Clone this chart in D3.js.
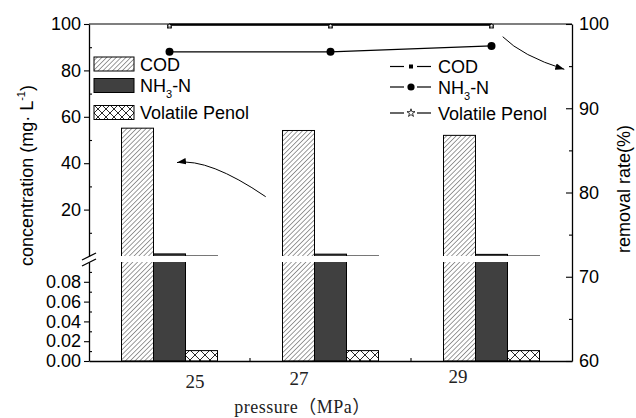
<!DOCTYPE html>
<html><head><meta charset="utf-8">
<script src="https://cdn.jsdelivr.net/npm/d3@7"></script>
<style>body{margin:0;background:#fff} svg{display:block}</style>
</head><body><svg id="c" width="636" height="418"></svg>
<script>
// ---- data ----
const pressures = ["25", "27", "29"];
const seriesNames = ["COD", "NH3-N", "Volatile Penol"];
const codConc = [55.1, 54.1, 52.0];
const nh3Conc = [0.9, 0.8, 0.7];
const phenolConc = [0.0105, 0.0105, 0.0105];
const codRemoval = [99.88, 99.88, 99.88];
const nh3Removal = [96.7, 96.7, 97.4];
const phenolRemoval = [99.95, 99.95, 99.95];
const upperTicks = [20, 40, 60, 80, 100];
const upperMinor = [10, 30, 50, 70, 90];
const lowerTicks = [0, 0.02, 0.04, 0.06, 0.08];
const lowerMinor = [0.01, 0.03, 0.05, 0.07, 0.09];
const rightTicks = [60, 70, 80, 90, 100];
const rightMinor = [65, 75, 85, 95];

// ---- layout ----
const L = 89, R = 572, T = 24, B = 361, upBot = 256, lowTop = 262;
const FONT = "'Liberation Sans', Arial, sans-serif";
const SERIF = "'Liberation Serif', 'Times New Roman', serif";
const labelNudge = [{dx: 25.5, y: 388}, {dx: -31.5, y: 384.5}, {dx: -33.5, y: 383}];

const svg = d3.select("#c");
const defs = svg.append("defs");

// patterns
const hatch = defs.append("pattern").attr("id", "hatch").attr("patternUnits", "userSpaceOnUse")
  .attr("width", 3.4).attr("height", 3.4).attr("patternTransform", "rotate(45)");
hatch.append("rect").attr("width", 3.4).attr("height", 3.4).attr("fill", "#fff");
hatch.append("line").attr("x1", 0).attr("y1", 0).attr("x2", 0).attr("y2", 3.4)
  .attr("stroke", "#222").attr("stroke-width", 0.9);

const cross = defs.append("pattern").attr("id", "cross").attr("patternUnits", "userSpaceOnUse")
  .attr("width", 10).attr("height", 10);
cross.append("rect").attr("width", 10).attr("height", 10).attr("fill", "#fff");
cross.append("path").attr("d", "M0,0L10,10M10,0L0,10").attr("stroke", "#111").attr("stroke-width", 0.9);

const crossL = defs.append("pattern").attr("id", "crossL").attr("patternUnits", "userSpaceOnUse")
  .attr("width", 8).attr("height", 8).attr("x", 94).attr("y", 105);
crossL.append("rect").attr("width", 8).attr("height", 8).attr("fill", "#fff");
crossL.append("path").attr("d", "M0,0L8,8M8,0L0,8").attr("stroke", "#111").attr("stroke-width", 0.9);

defs.append("clipPath").attr("id", "clipU").append("rect")
  .attr("x", L).attr("y", T - 2).attr("width", R - L).attr("height", upBot - T + 2);
defs.append("clipPath").attr("id", "clipL").append("rect")
  .attr("x", L).attr("y", lowTop).attr("width", R - L).attr("height", B - lowTop + 2);

const mk = defs.append("marker").attr("id", "arrow").attr("markerUnits", "userSpaceOnUse")
  .attr("markerWidth", 10).attr("markerHeight", 8).attr("refX", 9).attr("refY", 4).attr("orient", "auto");
mk.append("path").attr("d", "M0,0.8L9,4L0,7.2z").attr("fill", "#000");

// ---- scales ----
const x = d3.scaleBand().domain(pressures).range([L, R]);
const xs = d3.scaleBand().domain(seriesNames).range([0, 96]);
const off = (x.bandwidth() - 96) / 2;
const yU = d3.scaleLinear().domain([0, 100]).range([upBot, T]);
const yL = d3.scaleLinear().domain([0, 0.1]).range([B, lowTop]);
const yR = d3.scaleLinear().domain([60, 100]).range([B, T]);

const fills = {"COD": "url(#hatch)", "NH3-N": "#404040", "Volatile Penol": "url(#cross)"};
const concs = {"COD": codConc, "NH3-N": nh3Conc, "Volatile Penol": phenolConc};

const bars = [];
seriesNames.forEach(s => pressures.forEach((p, i) => bars.push({s, p, v: concs[s][i]})));
const bx = d => x(d.p) + off + xs(d.s);

// upper segment bars
svg.append("g").attr("clip-path", "url(#clipU)").selectAll("rect")
  .data(bars.filter(d => d.v > yU.domain()[0])).join("rect")
  .attr("x", bx).attr("width", xs.bandwidth())
  .attr("y", d => yU(d.v)).attr("height", d => upBot + 6 - yU(d.v))
  .attr("fill", d => fills[d.s]).attr("stroke", "#000").attr("stroke-width", 1);

// lower segment bars
svg.append("g").attr("clip-path", "url(#clipL)").selectAll("rect")
  .data(bars).join("rect")
  .attr("x", bx).attr("width", xs.bandwidth())
  .attr("y", d => Math.max(yL(d.v), lowTop - 6)).attr("height", d => B - Math.max(yL(d.v), lowTop - 6))
  .attr("fill", d => fills[d.s]).attr("stroke", "#000").attr("stroke-width", 1);

// ---- axes ----
function styleAxis(g) {
  g.selectAll("path.domain").attr("stroke", "#000").attr("stroke-width", 1.3);
  g.selectAll(".tick line").attr("stroke", "#000").attr("stroke-width", 1.1);
  g.selectAll("text").attr("font-family", FONT).attr("font-size", 18).attr("fill", "#000");
}
svg.append("g").attr("transform", `translate(${L},0)`)
  .call(d3.axisLeft(yU).tickValues(upperTicks).tickSize(5).tickSizeOuter(0).tickPadding(3))
  .call(styleAxis);
svg.append("g").attr("transform", `translate(${L},0)`)
  .call(d3.axisLeft(yU).tickValues(upperMinor).tickSize(-3).tickSizeOuter(0).tickFormat(""))
  .call(g => g.select(".domain").remove()).call(styleAxis);
svg.append("g").attr("transform", `translate(${L},0)`)
  .call(d3.axisLeft(yL).tickValues(lowerTicks).tickFormat(d3.format(".2f")).tickSize(5).tickSizeOuter(0).tickPadding(3))
  .call(styleAxis);
svg.append("g").attr("transform", `translate(${L},0)`)
  .call(d3.axisLeft(yL).tickValues(lowerMinor).tickSize(-3).tickSizeOuter(0).tickFormat(""))
  .call(g => g.select(".domain").remove()).call(styleAxis);
svg.append("g").attr("transform", `translate(${R},0)`)
  .call(d3.axisRight(yR).tickValues(rightTicks).tickSize(-6).tickSizeOuter(0).tickPadding(7))
  .call(styleAxis);
svg.append("g").attr("transform", `translate(${R},0)`)
  .call(d3.axisRight(yR).tickValues(rightMinor).tickSize(-3).tickSizeOuter(0).tickFormat(""))
  .call(g => g.select(".domain").remove()).call(styleAxis);
svg.append("g").attr("transform", `translate(0,${B})`)
  .call(d3.axisBottom(x).tickSize(0).tickSizeOuter(0).tickFormat(""))
  .call(styleAxis);
svg.append("g").selectAll("line").data(pressures.slice(1)).join("line")
  .attr("x1", d => x(d)).attr("x2", d => x(d)).attr("y1", B).attr("y2", B - 3)
  .attr("stroke", "#000").attr("stroke-width", 1.1);
svg.append("g").selectAll("text").data(pressures).join("text")
  .attr("x", (d, i) => x(d) + x.bandwidth() / 2 + labelNudge[i].dx)
  .attr("y", (d, i) => labelNudge[i].y)
  .attr("text-anchor", "middle").attr("font-family", SERIF).attr("font-size", 19).attr("fill", "#222").text(d => d);
svg.append("line").attr("x1", L).attr("x2", R).attr("y1", T).attr("y2", T)
  .attr("stroke", "#000").attr("stroke-width", 1.1);

// break marks
svg.append("g").selectAll("line").data([0, 6]).join("line")
  .attr("x1", L - 7).attr("x2", L + 7).attr("y1", d => upBot + 4 + d).attr("y2", d => upBot - 3 + d)
  .attr("stroke", "#000").attr("stroke-width", 1.3);

// ---- lines ----
const cx = p => x(p) + x.bandwidth() / 2;
const lineGen = vals => d3.line().x((d, i) => cx(pressures[i])).y(d => yR(d))(vals);
svg.append("path").attr("d", lineGen(codRemoval)).attr("fill", "none").attr("stroke", "#000").attr("stroke-width", 1.6);
svg.append("path").attr("d", lineGen(phenolRemoval)).attr("fill", "none").attr("stroke", "#000").attr("stroke-width", 1.6);
svg.append("path").attr("d", lineGen(nh3Removal)).attr("fill", "none").attr("stroke", "#000").attr("stroke-width", 1.2);

svg.append("g").selectAll("circle").data(nh3Removal).join("circle")
  .attr("cx", (d, i) => cx(pressures[i])).attr("cy", d => yR(d)).attr("r", 4).attr("fill", "#000");
svg.append("g").selectAll("rect").data(codRemoval).join("rect")
  .attr("x", (d, i) => cx(pressures[i]) - 2).attr("y", d => yR(d)).attr("width", 4).attr("height", 3)
  .attr("fill", "#fff").attr("stroke", "#000").attr("stroke-width", 0.8);
const star = d3.symbol().type(d3.symbolStar).size(8);
svg.append("g").selectAll("path").data(phenolRemoval).join("path")
  .attr("transform", (d, i) => `translate(${cx(pressures[i])},${yR(d) + 1.5})`).attr("d", star)
  .attr("fill", "#fff").attr("stroke", "#000").attr("stroke-width", 0.6);

// ---- bar legend ----
const legRowsY = [64, 85.5, 112.5];
const lg1 = svg.append("g");
seriesNames.forEach((s, i) => {
  lg1.append("rect").attr("x", 94).attr("y", legRowsY[i] - 7).attr("width", 40).attr("height", 14)
    .attr("fill", s === "Volatile Penol" ? "url(#crossL)" : fills[s]).attr("stroke", "#000").attr("stroke-width", 1);
});
function legText(g, xPos, yc, s) {
  const t = g.append("text").attr("x", xPos).attr("y", yc + 6.5).attr("font-family", FONT).attr("font-size", 18);
  if (s === "NH3-N") {
    t.append("tspan").text("NH");
    t.append("tspan").attr("font-size", 11).attr("dy", 6).text("3");
    t.append("tspan").attr("dy", -6).text("-N");
  } else t.text(s);
}
seriesNames.forEach((s, i) => legText(lg1, 140, legRowsY[i], s));

// ---- line legend ----
const leg2Y = [66.5, 87, 113];
const lg2 = svg.append("g");
seriesNames.forEach((s, i) => {
  const y = leg2Y[i];
  lg2.append("line").attr("x1", 390).attr("x2", 404).attr("y1", y).attr("y2", y).attr("stroke", "#000").attr("stroke-width", 1.2);
  lg2.append("line").attr("x1", 417).attr("x2", 431).attr("y1", y).attr("y2", y).attr("stroke", "#000").attr("stroke-width", 1.2);
  if (s === "COD") lg2.append("rect").attr("x", 409).attr("y", y - 2).attr("width", 4).attr("height", 4).attr("fill", "#000");
  else if (s === "NH3-N") lg2.append("circle").attr("cx", 411).attr("cy", y).attr("r", 3.6).attr("fill", "#000");
  else lg2.append("path").attr("transform", `translate(411,${y})`).attr("d", d3.symbol().type(d3.symbolStar).size(20))
    .attr("fill", "#fff").attr("stroke", "#000").attr("stroke-width", 0.8);
  legText(lg2, 438, y, s);
});

// ---- arrows ----
svg.append("path").attr("d", "M265.7,196.7Q209,158 177,162.5").attr("fill", "none")
  .attr("stroke", "#000").attr("stroke-width", 1).attr("marker-end", "url(#arrow)");
svg.append("path").attr("d", "M502.7,36.7Q522,56 564.3,69.3").attr("fill", "none")
  .attr("stroke", "#000").attr("stroke-width", 1).attr("marker-end", "url(#arrow)");

// ---- titles ----
const lt = svg.append("text").attr("transform", "translate(33,175.5) rotate(-90)").attr("text-anchor", "middle")
  .attr("font-family", FONT).attr("font-size", 18);
lt.append("tspan").text("concentration (mg· L");
lt.append("tspan").attr("font-size", 11).attr("dy", -8).text("-1");
lt.append("tspan").attr("dy", 8).text(")");

svg.append("text").attr("transform", "translate(630,189) rotate(-90)").attr("text-anchor", "middle")
  .attr("font-family", FONT).attr("font-size", 18).text("removal rate(%)");

svg.append("text").attr("x", 302.5).attr("y", 413).attr("text-anchor", "middle")
  .attr("font-family", SERIF + ", 'Noto Sans CJK SC'").attr("font-size", 18).attr("letter-spacing", 0.5)
  .attr("fill", "#222").text("pressure（MPa）");
</script></body></html>
